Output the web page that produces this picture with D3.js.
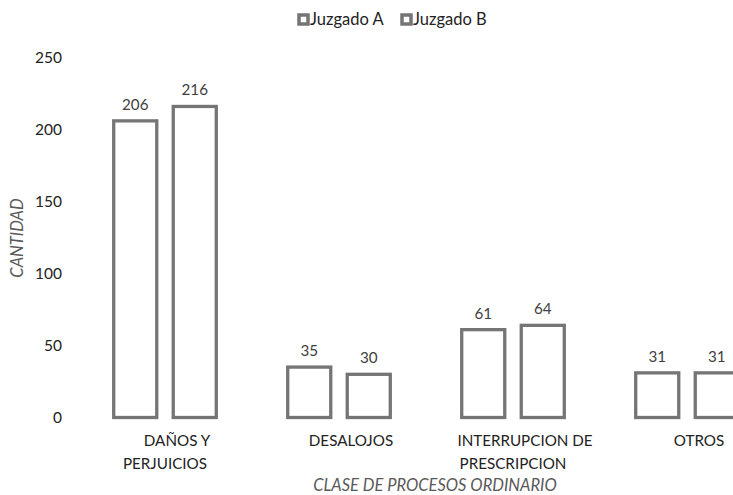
<!DOCTYPE html>
<html><head><meta charset="utf-8">
<script src="https://cdn.jsdelivr.net/npm/d3@7"></script>
<style>
html,body{margin:0;padding:0;background:#fff;}
svg{display:block;font-family:Lato, "Liberation Sans", sans-serif;}
</style></head>
<body>
<svg id="chart" width="733" height="495"></svg>
<script>
const categories = ["DAÑOS Y PERJUICIOS", "DESALOJOS", "INTERRUPCION DE PRESCRIPCION", "OTROS"];
const categoryLines = [["DAÑOS Y", "PERJUICIOS"], ["DESALOJOS"], ["INTERRUPCION DE", "PRESCRIPCION"], ["OTROS"]];
const seriesNames = ["Juzgado A", "Juzgado B"];
const juzgadoA = [206, 35, 61, 31];
const juzgadoB = [216, 30, 64, 31];
const yTicks = [0, 50, 100, 150, 200, 250];
const yTitle = "CANTIDAD";
const xTitle = "CLASE DE PROCESOS ORDINARIO";

const svg = d3.select("#chart");
const fs = 15.2;
const barColor = "#757575";
const textColor = "#404040";

const y = d3.scaleLinear().domain([0, 250]).range([417.5, 57.5]);
const x0 = d3.scaleBand().domain(categories).range([78, 774]).padding(0);
const x1 = d3.scaleBand().domain(seriesNames).range([0, x0.bandwidth()]).paddingInner(0.277).paddingOuter(0.6);

const data = categories.map((c, i) => ({cat: c, lines: categoryLines[i], vals: [juzgadoA[i], juzgadoB[i]]}));

// y axis (labels only)
const yAxis = d3.axisLeft(y).tickValues(yTicks).tickSize(0).tickPadding(0);
const gy = svg.append("g").attr("transform", "translate(62,0)").call(yAxis);
gy.select(".domain").remove();
gy.selectAll("text").attr("font-size", 15.5).attr("fill", "#222").attr("font-family", "Lato");

// bars
const groups = svg.append("g").selectAll("g").data(data).join("g")
  .attr("transform", d => `translate(${x0(d.cat)},0)`);
groups.selectAll("rect").data(d => d.vals.map((v, j) => ({s: seriesNames[j], v})))
  .join("rect")
  .attr("x", d => x1(d.s))
  .attr("width", x1.bandwidth())
  .attr("y", d => y(d.v))
  .attr("height", d => y(0) - y(d.v))
  .attr("fill", "#fff")
  .attr("stroke", barColor)
  .attr("stroke-width", 3.3);
groups.selectAll("text.val").data(d => d.vals.map((v, j) => ({s: seriesNames[j], v})))
  .join("text").attr("class", "val")
  .attr("x", d => x1(d.s) + x1.bandwidth() / 2)
  .attr("y", d => y(d.v) - 11)
  .attr("text-anchor", "middle")
  .attr("font-size", fs).attr("fill", textColor)
  .text(d => d.v);

// category labels
const cl = svg.append("g").selectAll("text").data(data).join("text")
  .attr("font-size", fs).attr("fill", "#222").attr("text-anchor", "middle");
cl.each(function(d) {
  const t = d3.select(this);
  const cx = x0(d.cat) + x0.bandwidth() / 2;
  d.lines.forEach((ln, k) => {
    t.append("tspan").attr("x", cx + (k === 0 ? 12 : 0)).attr("y", 446 + k * 23).text(ln);
  });
});

// axis titles
svg.append("text").attr("x", 435).attr("y", 491).attr("text-anchor", "middle")
  .attr("font-size", 16.5).attr("font-style", "italic").attr("fill", "#595959").text(xTitle);
svg.append("text").attr("transform", "translate(23,238) rotate(-90)").attr("text-anchor", "middle")
  .attr("font-size", 16.5).attr("font-style", "italic").attr("fill", "#595959").text(yTitle);

// legend
const leg = svg.append("g").selectAll("g").data(seriesNames).join("g")
  .attr("transform", (d, i) => `translate(${[297, 400][i]},0)`);
leg.append("rect").attr("x", 2).attr("y", 15).attr("width", 9).attr("height", 9)
  .attr("fill", "#fff").attr("stroke", barColor).attr("stroke-width", 3.5);
leg.append("text").attr("x", 13).attr("y", 25).attr("font-size", 16.5).attr("fill", "#222").text(d => d);
</script>
</body></html>
